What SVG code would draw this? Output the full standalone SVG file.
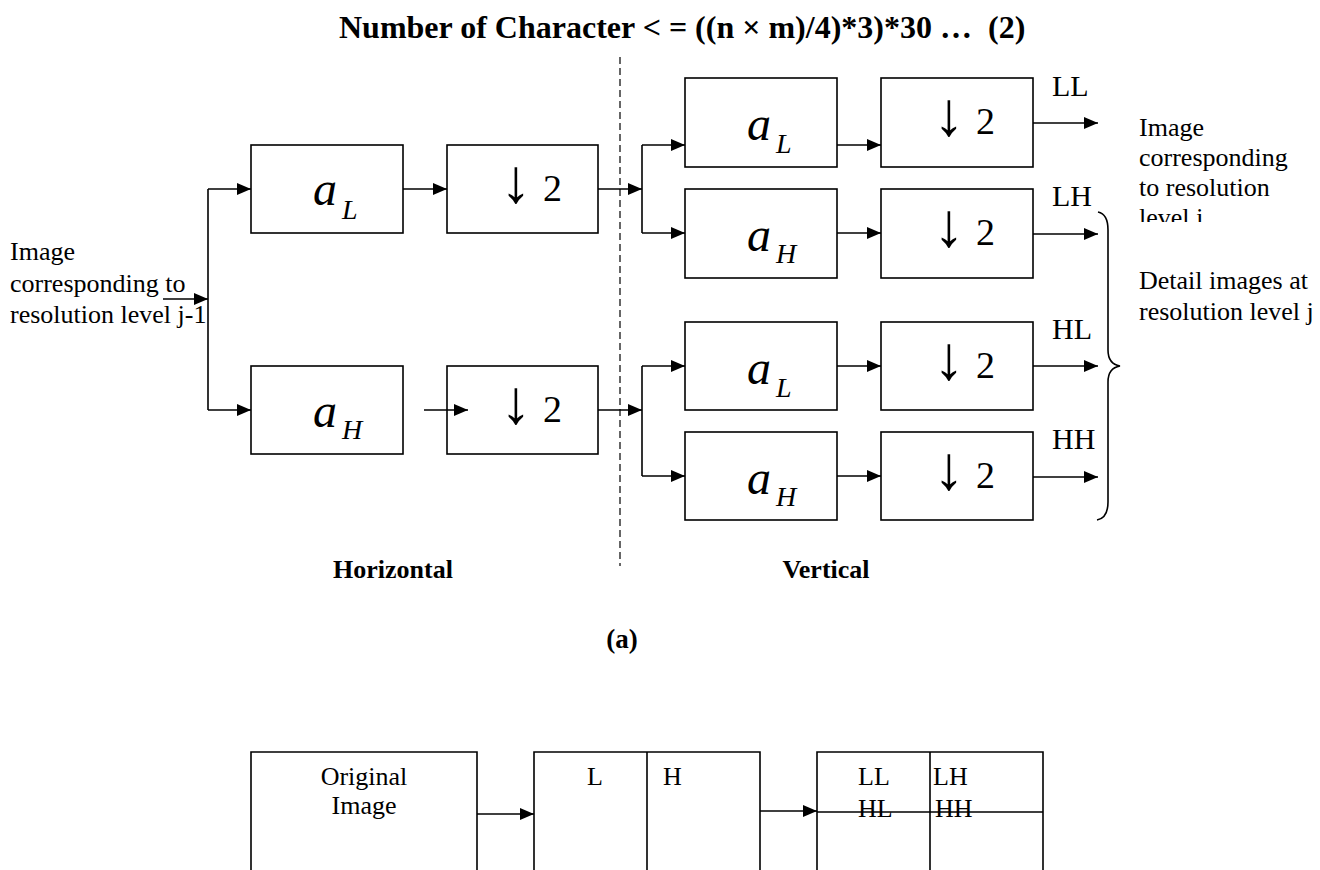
<svg xmlns="http://www.w3.org/2000/svg" width="1320" height="870" viewBox="0 0 1320 870">
<defs>
<style>
.box{fill:#fff;stroke:#000;stroke-width:1.6}
.ln{fill:none;stroke:#000;stroke-width:1.6}
.arr{fill:none;stroke:#000;stroke-width:1.6;marker-end:url(#ah)}
.t{font-family:"Liberation Serif","Times New Roman",serif;fill:#000}
.lab{font-size:26px}
.band{font-size:30px}
.sym{font-size:38px}
.dn{font-size:62px;text-anchor:middle}
.av{font-size:48px;font-style:italic}
.sub{font-size:28px;font-style:italic}
.bold{font-weight:bold}
</style>
<marker id="ah" markerUnits="userSpaceOnUse" markerWidth="14" markerHeight="12" refX="14" refY="6" orient="auto">
<path d="M0,0 L14,6 L0,12 z" fill="#000"/>
</marker>
<clipPath id="clipR"><rect x="1130" y="100" width="190" height="122"/></clipPath>
</defs>
<rect width="1320" height="870" fill="#fff"/>

<text class="t bold" x="339" y="38" font-size="32" style="white-space:pre">Number of Character &lt; = ((n × m)/4)*3)*30 …  (2)</text>

<line x1="620" y1="57" x2="620" y2="566" stroke="#000" stroke-width="1.2" stroke-dasharray="7,4"/>

<g id="input-label">
<text class="t lab" x="10" y="260">Image</text>
<text class="t lab" x="10" y="292">corresponding to</text>
<text class="t lab" x="10" y="323">resolution level j-1</text>
</g>

<g id="h-aL"><rect class="box" x="251" y="145" width="152" height="88"/><text class="t av" x="313" y="205">a</text><text class="t sub" x="342" y="219">L</text></g>
<g id="h-aH"><rect class="box" x="251" y="366" width="152" height="88"/><text class="t av" x="313" y="427">a</text><text class="t sub" x="342" y="439">H</text></g>
<g id="h-d1"><rect class="box" x="447" y="145" width="151" height="88"/><text class="t dn" x="516" y="202">↓</text><text class="t sym" x="543" y="201">2</text></g>
<g id="h-d2"><rect class="box" x="447" y="366" width="151" height="88"/><text class="t dn" x="516" y="423">↓</text><text class="t sym" x="543" y="422">2</text></g>

<g id="v-aL1"><rect class="box" x="685" y="78" width="152" height="89"/><text class="t av" x="747" y="140">a</text><text class="t sub" x="776" y="153">L</text></g>
<g id="v-aH1"><rect class="box" x="685" y="189" width="152" height="89"/><text class="t av" x="747" y="251">a</text><text class="t sub" x="776" y="263">H</text></g>
<g id="v-aL2"><rect class="box" x="685" y="322" width="152" height="88"/><text class="t av" x="747" y="384">a</text><text class="t sub" x="776" y="397">L</text></g>
<g id="v-aH2"><rect class="box" x="685" y="432" width="152" height="88"/><text class="t av" x="747" y="494">a</text><text class="t sub" x="776" y="506">H</text></g>

<g id="v-d1"><rect class="box" x="881" y="78" width="152" height="89"/><text class="t dn" x="949" y="135">↓</text><text class="t sym" x="976" y="134">2</text></g>
<g id="v-d2"><rect class="box" x="881" y="189" width="152" height="89"/><text class="t dn" x="949" y="246">↓</text><text class="t sym" x="976" y="245">2</text></g>
<g id="v-d3"><rect class="box" x="881" y="322" width="152" height="88"/><text class="t dn" x="949" y="379">↓</text><text class="t sym" x="976" y="378">2</text></g>
<g id="v-d4"><rect class="box" x="881" y="432" width="152" height="88"/><text class="t dn" x="949" y="489">↓</text><text class="t sym" x="976" y="488">2</text></g>

<g id="band-labels">
<text class="t band" x="1052" y="96">LL</text>
<text class="t band" x="1052" y="206">LH</text>
<text class="t band" x="1052" y="339">HL</text>
<text class="t band" x="1052" y="449">HH</text>
</g>

<g id="out-label" clip-path="url(#clipR)">
<text class="t lab" x="1139" y="136">Image</text>
<text class="t lab" x="1139" y="166">corresponding</text>
<text class="t lab" x="1139" y="196">to resolution</text>
<text class="t lab" x="1139" y="226">level j</text>
</g>

<g id="detail-label">
<path class="ln" d="M1098,212 Q1108,214 1108,230 L1108,350 Q1108,364 1120,366 Q1108,368 1108,382 L1108,502 Q1108,518 1097,520"/>
<text class="t lab" x="1139" y="289">Detail images at</text>
<text class="t lab" x="1139" y="320">resolution level j</text>
</g>

<g id="connectors">
<path class="arr" d="M163,299 H208"/>
<path class="ln" d="M208,189 V410"/>
<path class="arr" d="M208,189 H251"/>
<path class="arr" d="M208,410 H251"/>
<path class="arr" d="M403,189 H447"/>
<path class="arr" d="M424,410 H468"/>
<path class="arr" d="M598,189 H642"/>
<path class="arr" d="M598,410 H642"/>
<path class="ln" d="M642,145 V233"/>
<path class="arr" d="M642,145 H685"/>
<path class="arr" d="M642,233 H685"/>
<path class="ln" d="M642,366 V476"/>
<path class="arr" d="M642,366 H685"/>
<path class="arr" d="M642,476 H685"/>
<path class="arr" d="M837,145 H881"/>
<path class="arr" d="M837,233 H881"/>
<path class="arr" d="M837,366 H881"/>
<path class="arr" d="M837,476 H881"/>
<path class="arr" d="M1033,123 H1098"/>
<path class="arr" d="M1033,234 H1098"/>
<path class="arr" d="M1033,366 H1098"/>
<path class="arr" d="M1033,477 H1098"/>
<path class="arr" d="M477,814 H534"/>
<path class="arr" d="M760,811 H817"/>
</g>

<text class="t bold" x="393" y="578" font-size="26" text-anchor="middle">Horizontal</text>
<text class="t bold" x="826" y="578" font-size="26" text-anchor="middle">Vertical</text>
<text class="t bold" x="622" y="648" font-size="27" text-anchor="middle">(a)</text>

<g id="original">
<path class="ln" d="M251,870 V752 H477 V870"/>
<text class="t lab" x="364" y="785" text-anchor="middle">Original</text>
<text class="t lab" x="364" y="814" text-anchor="middle">Image</text>
</g>
<g id="lh-split">
<path class="ln" d="M534,870 V752 H760 V870 M647,752 V870"/>
<text class="t lab" x="587" y="785">L</text>
<text class="t lab" x="663" y="785">H</text>
</g>
<g id="quad-split">
<path class="ln" d="M817,870 V752 H1043 V870 M930,752 V870 M817,812 H1043"/>
<text class="t lab" x="858" y="785">LL</text>
<text class="t lab" x="933" y="785">LH</text>
<text class="t lab" x="858" y="817">HL</text>
<text class="t lab" x="935" y="817">HH</text>
</g>
</svg>
